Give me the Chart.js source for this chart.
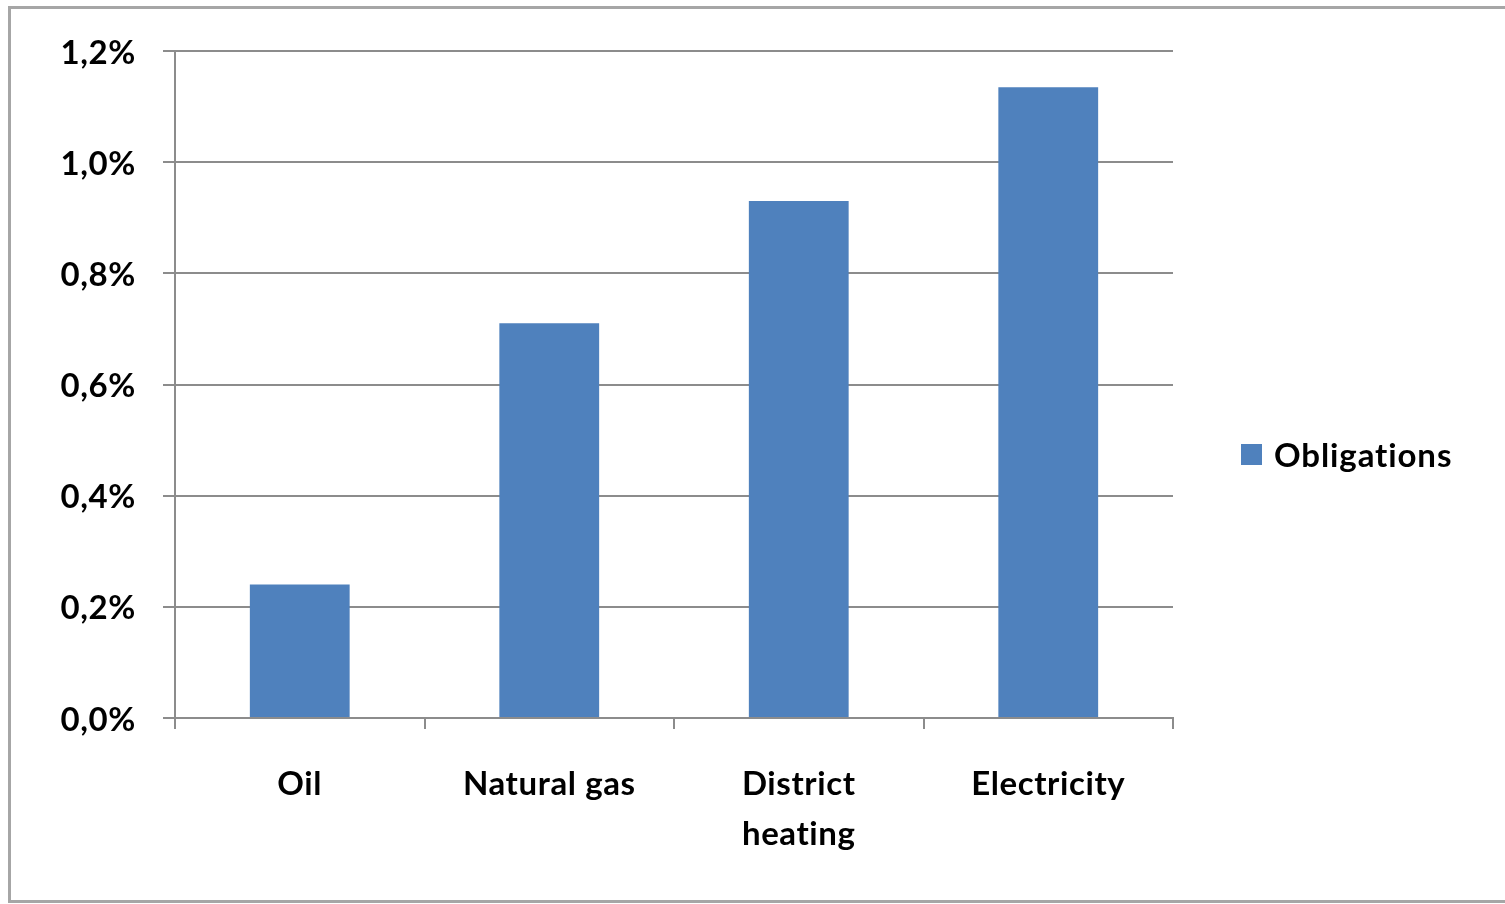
<!DOCTYPE html>
<html>
<head>
<meta charset="utf-8">
<script src="https://cdn.jsdelivr.net/npm/chart.js@4/dist/chart.umd.min.js"></script>
<style>
  html, body { margin: 0; padding: 0; background: #fff; overflow: hidden; }
  #wrap { position: absolute; left: 0; top: 0; width: 1505px; height: 904px; }
  #frame { position: absolute; left: 8px; top: 6px; width: 1600px; height: 897px; box-sizing: border-box;
           border: 3px solid #a6a6a6; pointer-events: none; }
</style>
</head>
<body>
<div id="wrap"><canvas id="c" width="1505" height="904"></canvas></div>
<div id="frame"></div>
<script>
const categories = [['Oil'], ['Natural gas'], ['District', 'heating'], ['Electricity']];
const seriesName = 'Obligations';
const obligations = [0.24, 0.71, 0.93, 1.135];
const yTicks = [0, 0.2, 0.4, 0.6, 0.8, 1.0, 1.2];

const FONT = 'Lato, "Open Sans", sans-serif';
const FONT_SIZE = 33;
const BAR_COLOR = '#4F81BD';
const GRID = '#8c8c8c';

const spacing = {
  id: 'spacing',
  beforeDraw(chart) { chart.ctx.letterSpacing = '0.6px'; }
};

const customLegend = {
  id: 'customLegend',
  afterDraw(chart) {
    const ctx = chart.ctx;
    const ds = chart.data.datasets[0];
    ctx.save();
    ctx.letterSpacing = '0.9px';
    ctx.fillStyle = ds.backgroundColor;
    ctx.fillRect(1241, 444, 21, 21);
    ctx.fillStyle = '#000';
    ctx.font = 'bold ' + FONT_SIZE + 'px ' + FONT;
    ctx.textBaseline = 'middle';
    ctx.textAlign = 'left';
    ctx.fillText(ds.label, 1274, 456);
    ctx.restore();
  }
};

new Chart(document.getElementById('c'), {
  type: 'bar',
  data: {
    labels: categories,
    datasets: [{
      label: seriesName,
      data: obligations,
      backgroundColor: BAR_COLOR,
      borderWidth: 0,
      barPercentage: 0.4,
      categoryPercentage: 1.0
    }]
  },
  options: {
    responsive: false,
    animation: false,
    events: [],
    layout: { padding: { top: 51, right: 332, bottom: 0, left: 0 } },
    plugins: { legend: { display: false }, tooltip: { enabled: false } },
    scales: {
      x: {
        offset: true,
        afterFit(s) { s.height = 186; },
        grid: { display: true, drawOnChartArea: false, offset: true, color: GRID, lineWidth: 2, tickLength: 11 },
        border: { display: true, color: GRID, width: 2 },
        ticks: { color: '#000', font: { family: FONT, size: FONT_SIZE, weight: 'bold', lineHeight: 1.5 }, padding: 31, maxRotation: 0, autoSkip: false }
      },
      y: {
        min: 0, max: 1.2,
        afterFit(s) { s.width = 175; },
        afterBuildTicks(s) { s.ticks = yTicks.map(v => ({ value: v })); },
        grid: { color: GRID, lineWidth: 2, tickLength: 12 },
        border: { display: true, color: GRID, width: 2 },
        ticks: {
          color: '#000', padding: 27, labelOffset: 2,
          font: { family: FONT, size: FONT_SIZE, weight: 'bold' },
          callback: v => v.toFixed(1).replace('.', ',') + '%'
        }
      }
    }
  },
  plugins: [spacing, customLegend]
});
</script>
</body>
</html>
